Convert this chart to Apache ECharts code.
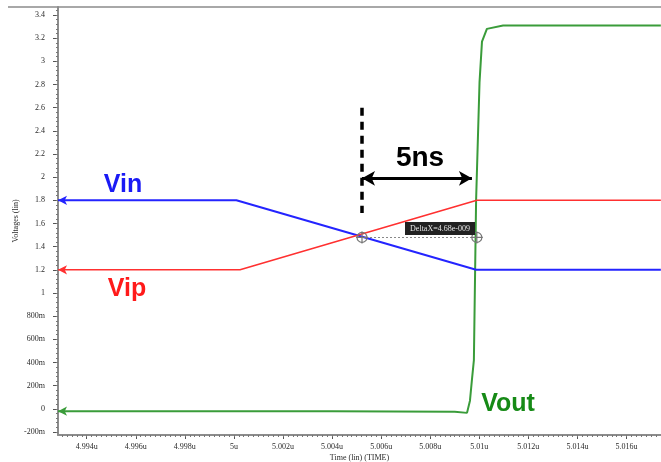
<!DOCTYPE html>
<html>
<head>
<meta charset="utf-8">
<script src="https://cdn.jsdelivr.net/npm/echarts@6/dist/echarts.min.js"></script>
<style>
  html, body { margin: 0; padding: 0; background: #ffffff; }
  #chart { width: 661px; height: 462px; }
</style>
</head>
<body>
<div id="chart"></div>
<script>
// Comparator transient: time in microseconds, node voltages in volts.
const timeVin = [4.99283, 5.0001, 5.00987, 5.0174];
const vin     = [1.8, 1.8, 1.2, 1.2];

const timeVip = [4.99283, 5.00025, 5.0099, 5.0174];
const vip     = [1.2, 1.2, 1.8, 1.8];

const timeVout = [4.99283, 5.004, 5.009, 5.0095, 5.00962, 5.0097, 5.00978, 5.00987, 5.01001, 5.01011, 5.01031, 5.01097, 5.0174];
const vout     = [-0.02, -0.02, -0.025, -0.035, 0.07, 0.25, 0.42, 1.8, 2.82, 3.17, 3.28, 3.31, 3.31];

// Axis ticks
const timeTicks = [4.994, 4.996, 4.998, 5.0, 5.002, 5.004, 5.006, 5.008, 5.01, 5.012, 5.014, 5.016];
const voltTicks = [-0.2, 0, 0.2, 0.4, 0.6, 0.8, 1.0, 1.2, 1.4, 1.6, 1.8, 2.0, 2.2, 2.4, 2.6, 2.8, 3.0, 3.2, 3.4];

// Cursor measurement: Vin/Vip crossing to Vout edge
const crossTime = 5.00522;
const cursorVolt = 1.48;
const deltaX = 4.68e-9;            // seconds
const deltaLabel = 'DeltaX=4.68e-009';
const spanLabel = '5ns';
const arrowVolt = 1.99;
const arrowEndTime = 5.0097;
const dashTop = 2.6, dashBottom = 1.69;

const xMin = 4.99283, xMax = 5.017406;
const yMin = -0.226, yMax = 3.469;

// Fine tick positions
const minorX = [];
for (let k = Math.ceil(xMin / 0.0002); k * 0.0002 <= xMax; k++) minorX.push(+(k * 0.0002).toFixed(5));
const minorY = [];
for (let k = Math.ceil(yMin / 0.04); k * 0.04 <= yMax; k++) minorY.push(+(k * 0.04).toFixed(3));

const cursor2Time = crossTime + deltaX * 1e6;

function pairs(t, v) {
  return t.map((x, i) => {
    if (i === 0) {
      return { value: [x, v[i]], symbol: 'arrow', symbolSize: [7, 9], symbolRotate: 90, symbolOffset: [0, 0] };
    }
    return [x, v[i]];
  });
}

const tickFont = { fontFamily: 'Liberation Serif', fontSize: 8, color: '#2a2a2a' };

function voltFmt(v) {
  const r = Math.round(v * 1000) / 1000;
  if (r === 0) return '0';
  if (Math.abs(r) < 1) return Math.round(r * 1000) + 'm';
  return String(+r.toFixed(1));
}
function timeFmt(v) {
  return String(+v.toFixed(3)) + 'u';
}

const chart = echarts.init(document.getElementById('chart'), null, { renderer: 'canvas' });

chart.setOption({
  animation: false,
  backgroundColor: '#ffffff',
  grid: { left: 58, right: 0, top: 7, bottom: 27, containLabel: false, outerBoundsMode: 'none' },
  xAxis: [
    {
      type: 'value', min: xMin, max: xMax, position: 'bottom',
      name: 'Time (lin) (TIME)', nameLocation: 'middle', nameGap: 19, nameMoveOverlap: false,
      nameTextStyle: { fontFamily: 'Liberation Serif', fontSize: 8, color: '#2a2a2a' },
      axisLine: { show: true, onZero: false, lineStyle: { color: '#8c8c8c', width: 2 } },
      axisTick: { show: true, customValues: timeTicks, length: 4, lineStyle: { color: '#555' } },
      axisLabel: Object.assign({ show: true, customValues: timeTicks, margin: 8, formatter: timeFmt }, tickFont),
      splitLine: { show: false }
    },
    {
      type: 'value', min: xMin, max: xMax, position: 'bottom',
      axisLine: { show: false, onZero: false },
      axisTick: { show: true, customValues: minorX, length: 2, lineStyle: { color: '#777' } },
      axisLabel: { show: false },
      splitLine: { show: false }
    }
  ],
  yAxis: [
    {
      type: 'value', min: yMin, max: yMax, position: 'left',
      name: 'Voltages (lin)', nameLocation: 'middle', nameGap: 38, nameRotate: 90, nameMoveOverlap: false,
      nameTextStyle: { fontFamily: 'Liberation Serif', fontSize: 8, color: '#2a2a2a' },
      axisLine: { show: true, onZero: false, lineStyle: { color: '#8c8c8c', width: 2 } },
      axisTick: { show: true, customValues: voltTicks, length: 5, lineStyle: { color: '#555' } },
      axisLabel: Object.assign({ show: true, customValues: voltTicks, margin: 13, formatter: voltFmt }, tickFont),
      splitLine: { show: false }
    },
    {
      type: 'value', min: yMin, max: yMax, position: 'left',
      axisLine: { show: false, onZero: false },
      axisTick: { show: true, customValues: minorY, length: 2, lineStyle: { color: '#777' } },
      axisLabel: { show: false },
      splitLine: { show: false }
    }
  ],
  series: [
    {
      name: 'Vin', type: 'line', xAxisIndex: 0, yAxisIndex: 0,
      symbol: 'none', showSymbol: true,
      data: pairs(timeVin, vin),
      lineStyle: { color: '#2424ff', width: 2 },
      itemStyle: { color: '#2424ff' },
      z: 3,
      markLine: {
        silent: true, symbol: 'none', label: { show: false },
        data: [
          [
            { coord: [crossTime, dashTop], lineStyle: { color: '#000', width: 3.5, type: [8, 6] } },
            { coord: [crossTime, dashBottom] }
          ],
          [
            { coord: [crossTime, arrowVolt], symbol: 'arrow', symbolSize: [11, 13], lineStyle: { color: '#000', width: 3, type: 'solid' } },
            { coord: [arrowEndTime, arrowVolt], symbol: 'arrow', symbolSize: [11, 13] }
          ],
          [
            { coord: [crossTime, cursorVolt], lineStyle: { color: '#888', width: 1, type: [2, 2] } },
            { coord: [cursor2Time, cursorVolt] }
          ]
        ]
      }
    },
    {
      name: 'Vip', type: 'line', xAxisIndex: 0, yAxisIndex: 0,
      symbol: 'none', showSymbol: true,
      data: pairs(timeVip, vip),
      lineStyle: { color: '#ff3030', width: 1.6 },
      itemStyle: { color: '#ff3030' },
      z: 3
    },
    {
      name: 'Vout', type: 'line', xAxisIndex: 0, yAxisIndex: 0,
      symbol: 'none', showSymbol: true,
      data: pairs(timeVout, vout),
      lineStyle: { color: '#3a9c3a', width: 2 },
      itemStyle: { color: '#3a9c3a' },
      z: 2,
      markPoint: {
        silent: true,
        symbol: 'circle', symbolSize: 10,
        itemStyle: { color: 'rgba(255,255,255,0)', borderColor: '#777', borderWidth: 1.2 },
        label: { show: false },
        data: [
          { coord: [crossTime, cursorVolt] },
          { coord: [cursor2Time, cursorVolt] },
          { coord: [crossTime, cursorVolt], symbol: 'path://M0,5L10,5M5,0L5,10', symbolSize: 12 },
          { coord: [cursor2Time, cursorVolt], symbol: 'path://M0,5L10,5M5,0L5,10', symbolSize: 12 }
        ]
      }
    }
  ],
  graphic: [
    { type: 'line', shape: { x1: 8, y1: 7, x2: 661, y2: 7 }, style: { stroke: '#a8a8a8', lineWidth: 2 }, silent: true },
    { type: 'text', x: 123, y: 185, style: { text: 'Vin', fill: '#1a1af5', font: 'bold 25px "Liberation Sans", Arial', align: 'center', verticalAlign: 'middle' } },
    { type: 'text', x: 127, y: 289, style: { text: 'Vip', fill: '#ff1a1a', font: 'bold 25px "Liberation Sans", Arial', align: 'center', verticalAlign: 'middle' } },
    { type: 'text', x: 508, y: 404, style: { text: 'Vout', fill: '#168a16', font: 'bold 25px "Liberation Sans", Arial', align: 'center', verticalAlign: 'middle' } },
    { type: 'text', x: 420, y: 158, style: { text: spanLabel, fill: '#000', font: 'bold 28px "Liberation Sans", Arial', align: 'center', verticalAlign: 'middle' } },
    { type: 'rect', shape: { x: 405, y: 222, width: 70, height: 13 }, style: { fill: '#222' }, z: 10 },
    { type: 'text', x: 440, y: 228.5, z: 11, style: { text: deltaLabel, fill: '#e6e6e6', font: '8px "Liberation Serif"', align: 'center', verticalAlign: 'middle' } }
  ]
});
</script>
</body>
</html>
